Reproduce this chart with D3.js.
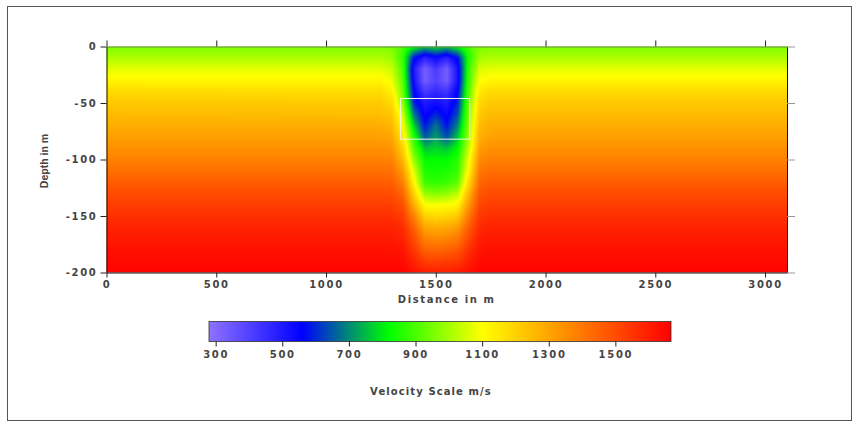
<!DOCTYPE html>
<html>
<head>
<meta charset="utf-8">
<script src="https://cdn.jsdelivr.net/npm/d3@7"></script>
<style>
  html, body { margin: 0; padding: 0; background: #fff; }
  svg { display: block; }
  .tick-label, .axis-title { font-family: "DejaVu Sans", sans-serif; font-weight: bold; fill: #444; }
</style>
</head>
<body>
<div id="chart"></div>
<script>
// Grid: distance columns (m) and depth rows (m)
const distances = [0, 1250, 1300, 1350, 1400, 1450, 1500, 1550, 1600, 1650, 1700, 1750, 3100];
const depths = [0, -10, -20, -30, -40, -50, -60, -70, -80, -90, -100,
  -110, -120, -130, -140, -150, -160, -170, -180, -190, -200];

// Layered background velocity (m/s), one value per depth row
const background = [960, 1010, 1070, 1120, 1180, 1220, 1250, 1280, 1310, 1345, 1380,
  1420, 1460, 1500, 1530, 1560, 1590, 1610, 1630, 1645, 1660];

// Low-velocity anomaly, columns 1250 .. 1750 m, one row per depth
const anomaly = [
  [960, 955, 900, 820, 760, 790, 760, 820, 900, 955, 960],
  [1010, 990, 880, 580, 480, 540, 480, 580, 860, 1000, 1010],
  [1070, 1040, 900, 500, 330, 420, 330, 520, 880, 1060, 1070],
  [1120, 1080, 920, 520, 330, 400, 330, 520, 900, 1100, 1120],
  [1175, 1130, 940, 560, 420, 460, 430, 560, 920, 1150, 1180],
  [1215, 1180, 980, 600, 500, 530, 500, 600, 940, 1190, 1220],
  [1245, 1220, 1050, 680, 540, 600, 540, 640, 960, 1220, 1250],
  [1280, 1260, 1100, 780, 580, 680, 580, 700, 980, 1250, 1280],
  [1310, 1295, 1150, 860, 650, 720, 640, 760, 1000, 1280, 1310],
  [1345, 1335, 1200, 920, 760, 780, 760, 820, 1030, 1320, 1345],
  [1380, 1375, 1260, 980, 820, 820, 820, 860, 1080, 1360, 1380],
  [1420, 1415, 1320, 1060, 850, 840, 850, 880, 1120, 1400, 1420],
  [1460, 1455, 1380, 1120, 880, 870, 880, 920, 1180, 1440, 1460],
  [1500, 1495, 1440, 1200, 980, 960, 980, 1020, 1260, 1480, 1500],
  [1530, 1528, 1490, 1280, 1100, 1090, 1100, 1120, 1330, 1515, 1530],
  [1560, 1558, 1530, 1380, 1200, 1180, 1190, 1220, 1400, 1545, 1560],
  [1590, 1588, 1570, 1450, 1300, 1280, 1290, 1320, 1460, 1575, 1590],
  [1610, 1608, 1595, 1500, 1380, 1360, 1370, 1400, 1510, 1600, 1610],
  [1630, 1628, 1620, 1540, 1450, 1440, 1450, 1470, 1560, 1620, 1630],
  [1645, 1645, 1640, 1590, 1530, 1520, 1530, 1540, 1600, 1640, 1645],
  [1660, 1660, 1655, 1630, 1600, 1600, 1600, 1610, 1630, 1655, 1660],
];

// Highlighted box (distance from/to, depth from/to)
const boxDistance = [1340, 1655];
const boxDepth = [-46, -82];

const xTicks = [0, 500, 1000, 1500, 2000, 2500, 3000];
const yTicks = [0, -50, -100, -150, -200];
const scaleTicks = [300, 500, 700, 900, 1100, 1300, 1500];

// Colour ramp of the velocity scale
const rampValues = [280, 560, 820, 1100, 1667];
const rampColors = ['#8f72ff', '#0000ff', '#00ff00', '#ffff00', '#ff0000'];

const W = 859, H = 426;

const svg = d3.select('#chart').append('svg')
  .attr('width', W)
  .attr('height', H);

svg.append('rect')
  .attr('x', 7.5).attr('y', 6.5)
  .attr('width', 844).attr('height', 414)
  .attr('fill', 'none')
  .attr('stroke', '#555');

const x = d3.scaleLinear().domain([0, 3100]).range([106.5, 787]);
const y = d3.scaleLinear().domain([-200, 0]).range([272.5, 46.5]);
const color = d3.scaleLinear().domain(rampValues).range(rampColors)
  .interpolate(d3.interpolateRgb).clamp(true);

// Full grid = background at both ends + anomaly columns in between
const grid = depths.map((d, i) => [background[i], ...anomaly[i], background[i]]);

function velocityAt(dx, dy) {
  const ci = Math.min(Math.max(d3.bisectRight(distances, dx) - 1, 0), distances.length - 2);
  // depths are descending
  let ri = 0;
  while (ri < depths.length - 2 && dy < depths[ri + 1]) ri++;
  const tx = Math.min(Math.max((dx - distances[ci]) / (distances[ci + 1] - distances[ci]), 0), 1);
  const ty = Math.min(Math.max((dy - depths[ri]) / (depths[ri + 1] - depths[ri]), 0), 1);
  const a = grid[ri][ci], b = grid[ri][ci + 1];
  const c = grid[ri + 1][ci], e = grid[ri + 1][ci + 1];
  return (a * (1 - tx) + b * tx) * (1 - ty) + (c * (1 - tx) + e * tx) * ty;
}

// --- Raster of the velocity field ---
const x0 = x(0), y0 = y(0);
const pw = Math.round(x(3100) - x0), ph = Math.round(y(-200) - y0);
const canvas = document.createElement('canvas');
canvas.width = pw;
canvas.height = ph;
const ctx = canvas.getContext('2d');
const img = ctx.createImageData(pw, ph);
for (let j = 0; j < ph; j++) {
  const dy = y.invert(y0 + j + 0.5);
  for (let i = 0; i < pw; i++) {
    const dx = x.invert(x0 + i + 0.5);
    const c = d3.rgb(color(velocityAt(dx, dy)));
    const k = (j * pw + i) * 4;
    img.data[k] = c.r;
    img.data[k + 1] = c.g;
    img.data[k + 2] = c.b;
    img.data[k + 3] = 255;
  }
}
ctx.putImageData(img, 0, 0);

svg.append('image')
  .attr('x', x0).attr('y', y0)
  .attr('width', pw).attr('height', ph)
  .attr('preserveAspectRatio', 'none')
  .attr('href', canvas.toDataURL());

svg.append('rect')
  .attr('x', x(boxDistance[0]))
  .attr('y', y(boxDepth[0]))
  .attr('width', x(boxDistance[1]) - x(boxDistance[0]))
  .attr('height', y(boxDepth[1]) - y(boxDepth[0]))
  .attr('fill', 'none')
  .attr('stroke', '#f4f4f4')
  .attr('stroke-width', 1);

// --- Axes ---
const plain = d => String(d);

function styleAxis(g, withLabels) {
  g.select('.domain').attr('stroke', '#111');
  g.selectAll('.tick line').attr('stroke', '#222');
  g.selectAll('.tick text')
    .attr('class', 'tick-label')
    .style('font-size', '10px')
    .style('letter-spacing', '1.7px')
    .style('display', withLabels ? null : 'none');
}

svg.append('g')
  .attr('transform', `translate(0,${y(-200)})`)
  .call(d3.axisBottom(x).tickValues(xTicks).tickFormat(plain)
    .tickSize(5).tickSizeOuter(0).tickPadding(3))
  .call(g => styleAxis(g, true));

svg.append('g')
  .attr('transform', `translate(0,${y(0)})`)
  .call(d3.axisTop(x).tickValues(xTicks).tickSize(6).tickSizeOuter(0))
  .call(g => styleAxis(g, false))
  .call(g => g.select('.domain').attr('stroke', '#6a8a4a'));

svg.append('g')
  .attr('transform', `translate(${x(0)},0)`)
  .call(d3.axisLeft(y).tickValues(yTicks).tickFormat(plain)
    .tickSize(6).tickSizeOuter(0).tickPadding(3))
  .call(g => styleAxis(g, true));

svg.append('g')
  .attr('transform', `translate(${x(3100)},0)`)
  .call(d3.axisRight(y).tickValues(yTicks).tickSize(8).tickSizeOuter(0))
  .call(g => styleAxis(g, false))
  .call(g => g.selectAll('.tick line').attr('stroke', '#999'));

svg.append('text')
  .attr('class', 'axis-title')
  .attr('x', (x(0) + x(3100)) / 2)
  .attr('y', 303)
  .attr('text-anchor', 'middle')
  .style('font-size', '10px')
  .style('letter-spacing', '1.6px')
  .text('Distance in m');

svg.append('text')
  .attr('class', 'axis-title')
  .attr('transform', 'translate(48,161) rotate(-90)')
  .attr('text-anchor', 'middle')
  .style('font-family', '"Liberation Sans", sans-serif')
  .style('font-size', '10.5px')
  .text('Depth in m');

// --- Colour bar ---
const bar = d3.scaleLinear().domain([280, 1667]).range([209, 671]);

const grad = svg.append('defs').append('linearGradient')
  .attr('id', 'velocity-ramp')
  .attr('x1', '0%').attr('x2', '100%');
grad.selectAll('stop')
  .data(rampValues)
  .join('stop')
  .attr('offset', d => (d - 280) / (1667 - 280))
  .attr('stop-color', d => color(d));

svg.append('rect')
  .attr('x', bar(280)).attr('y', 321.5)
  .attr('width', bar(1667) - bar(280)).attr('height', 20)
  .attr('fill', 'url(#velocity-ramp)')
  .attr('stroke', '#333')
  .attr('stroke-width', 0.8);

svg.append('g')
  .attr('transform', 'translate(0,341.5)')
  .call(d3.axisBottom(bar).tickValues(scaleTicks).tickFormat(plain).tickSize(5).tickPadding(4))
  .call(g => g.select('.domain').remove())
  .call(g => styleAxis(g, true));

svg.append('text')
  .attr('class', 'axis-title')
  .attr('x', 431)
  .attr('y', 395)
  .attr('text-anchor', 'middle')
  .style('font-size', '10px')
  .style('letter-spacing', '1.1px')
  .text('Velocity Scale m/s');
</script>
</body>
</html>
